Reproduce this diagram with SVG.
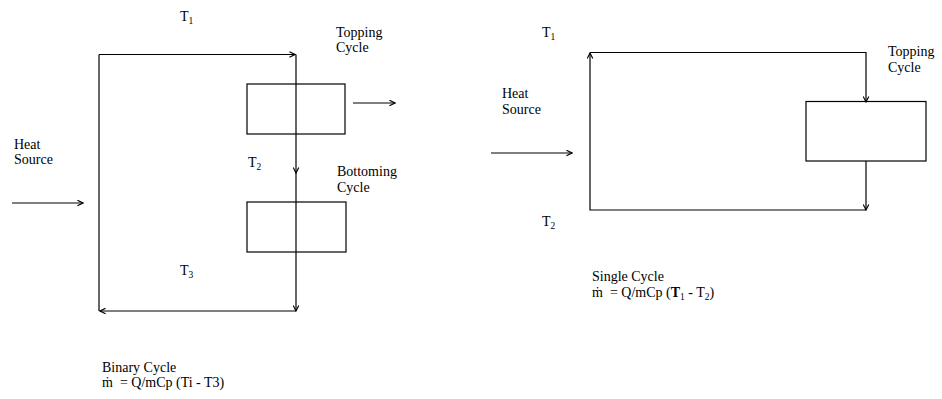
<svg xmlns="http://www.w3.org/2000/svg" width="942" height="399" viewBox="0 0 942 399">
<defs>
<marker id="ah" viewBox="0 0 10 10" refX="9" refY="5" markerWidth="7" markerHeight="7" markerUnits="userSpaceOnUse" orient="auto">
<path d="M1,1 L9,5 L1,9" fill="none" stroke="#000" stroke-width="1.6"/>
</marker>
<style>
.t{font-family:"Liberation Serif","Times New Roman",serif;font-size:14px;fill:#000}
.s{font-size:9.5px}
.box{fill:none;stroke:#000;stroke-width:1.2}
.ln{fill:none;stroke:#000;stroke-width:1.2}
.ar{fill:none;stroke:#000;stroke-width:1.2;marker-end:url(#ah)}
</style>
</defs>
<rect width="942" height="399" fill="#fff"/>

<g id="connectors">
<!-- Binary cycle loop -->
<path class="ln" d="M99,311 L99,54.5"/>
<path class="ar" d="M99,54.5 L295,54.5"/>
<path class="ar" d="M296,54.5 L296,173"/>
<path class="ar" d="M296,172 L296,311"/>
<path class="ar" d="M296,311 L100,311"/>
<path class="ar" d="M353,103 L395,103"/>
<path class="ar" d="M12,203 L83,203"/>
<!-- Single cycle loop -->
<path class="ar" d="M866,210 L590,210 L590,53"/>
<path class="ar" d="M590,52.5 L866,52.5 L866,102"/>
<path class="ar" d="M866,161 L866,210"/>
<path class="ar" d="M491,153 L572,153"/>
</g>

<g id="topping-binary"><rect class="box" x="247" y="84" width="98" height="50"/></g>
<g id="bottoming-binary"><rect class="box" x="247" y="202" width="99" height="50"/></g>
<g id="topping-single"><rect class="box" x="806" y="101.5" width="120" height="59.5"/></g>

<g id="labels-binary">
<text class="t" x="180" y="21">T<tspan class="s" dy="3">1</tspan></text>
<text class="t" x="336" y="36.5">Topping<tspan x="336" dy="15.5">Cycle</tspan></text>
<text class="t" x="14" y="148.5">Heat<tspan x="14" dy="15.5">Source</tspan></text>
<text class="t" x="248" y="167">T<tspan class="s" dy="3">2</tspan></text>
<text class="t" x="337" y="176">Bottoming<tspan x="337" dy="15.5">Cycle</tspan></text>
<text class="t" x="180" y="275">T<tspan class="s" dy="3">3</tspan></text>
<text class="t" x="102" y="371.5" xml:space="preserve">Binary Cycle<tspan x="102" dy="15.5">ṁ  = Q/mCp (Ti - T3)</tspan></text>
</g>

<g id="labels-single">
<text class="t" x="542" y="37">T<tspan class="s" dy="3">1</tspan></text>
<text class="t" x="888" y="56">Topping<tspan x="888" dy="15.5">Cycle</tspan></text>
<text class="t" x="502" y="98">Heat<tspan x="502" dy="16">Source</tspan></text>
<text class="t" x="542" y="226">T<tspan class="s" dy="3">2</tspan></text>
<text class="t" x="592" y="281" xml:space="preserve">Single Cycle<tspan x="592" dy="15.5">ṁ  = Q/mCp (</tspan><tspan font-weight="bold">T</tspan><tspan class="s" dy="3">1</tspan><tspan dy="-3"> - T</tspan><tspan class="s" dy="3">2</tspan><tspan dy="-3">)</tspan></text>
</g>
</svg>
